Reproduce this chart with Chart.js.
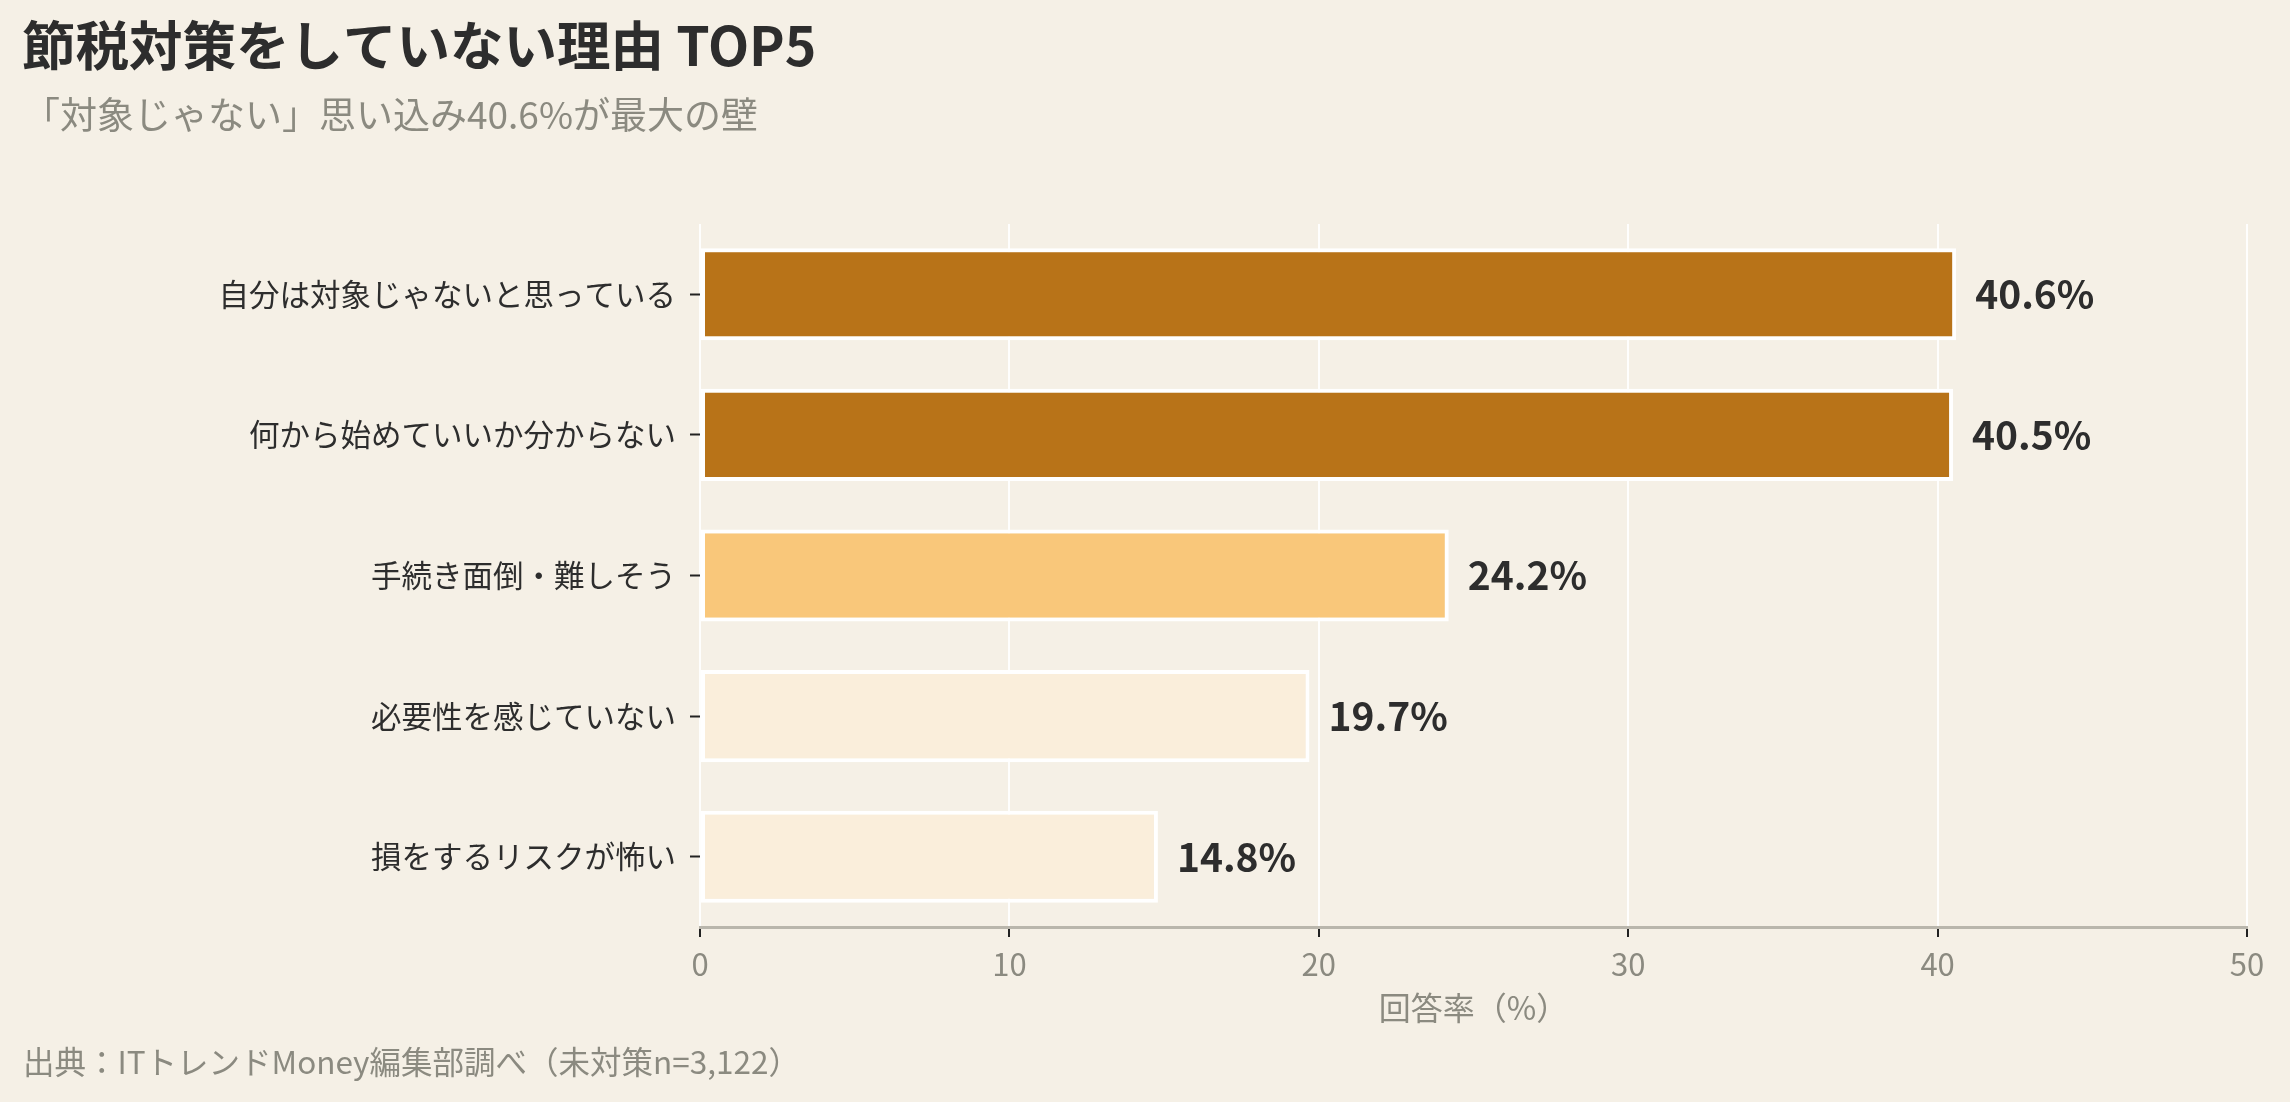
<!DOCTYPE html>
<html lang="ja">
<head>
<meta charset="utf-8">
<title>節税対策をしていない理由 TOP5</title>
<script src="https://cdn.jsdelivr.net/npm/chart.js@4.4.1/dist/chart.umd.min.js"></script>
<style>
    html, body { margin: 0; padding: 0; background: #F5F0E6; }
    #wrap { position: relative; width: 2290px; height: 1102px; }
</style>
</head>
<body>
<div id="wrap"><canvas id="chart"></canvas></div>
<script>
// --- texts ---
const titleText = '節税対策をしていない理由 TOP5';
const subtitleText = '「対象じゃない」思い込み40.6%が最大の壁';
const sourceText = '出典：ITトレンドMoney編集部調べ（未対策n=3,122）';
const axisTitle = '回答率（%）';

// --- data ---
const reasons = [
    '自分は対象じゃないと思っている',
    '何から始めていいか分からない',
    '手続き面倒・難しそう',
    '必要性を感じていない',
    '損をするリスクが怖い'
];
const rates = [40.6, 40.5, 24.2, 19.7, 14.8];
const barColors = ['#B87318', '#B87318', '#F9C77A', '#FAEEDB', '#FAEEDB'];
const xTicks = [0, 10, 20, 30, 40, 50];

const FONT = '"Noto Sans CJK JP", "Noto Sans", sans-serif';
const BG = '#F5F0E6';
const DARK = '#2D2D2D';
const GREY = '#8B8A80';

Chart.defaults.font.family = FONT;

/**
 * Paints the background, the headline block, the source line
 * and the value printed after each bar
 */
const decorPlugin = {
    id: 'decor',
    beforeDraw(chart) {
        const ctx = chart.ctx;
        ctx.save();
        ctx.fillStyle = BG;
        ctx.fillRect(0, 0, chart.width, chart.height);
        ctx.restore();
    },
    afterDatasetsDraw(chart) {
        const ctx = chart.ctx;
        const meta = chart.getDatasetMeta(0);
        ctx.save();
        ctx.fillStyle = DARK;
        ctx.font = `bold 39px ${FONT}`;
        ctx.textAlign = 'left';
        ctx.textBaseline = 'middle';
        meta.data.forEach((bar, i) => {
            ctx.fillText(rates[i].toFixed(1) + '%', bar.x + 19, bar.y);
        });
        ctx.restore();
    },
    afterDraw(chart) {
        const ctx = chart.ctx;
        ctx.save();
        ctx.textAlign = 'left';
        ctx.textBaseline = 'middle';

        ctx.fillStyle = DARK;
        ctx.font = `bold 53.5px ${FONT}`;
        ctx.fillText(titleText, 22, 46);

        ctx.fillStyle = GREY;
        ctx.font = `37px ${FONT}`;
        ctx.fillText(subtitleText, 23, 115);

        ctx.font = `31.5px ${FONT}`;
        ctx.fillText(sourceText, 23, 1062);
        ctx.restore();
    }
};

const config = {
    type: 'bar',
    data: {
        labels: reasons,
        datasets: [{
            data: rates,
            backgroundColor: barColors,
            borderColor: '#FFFFFF',
            borderWidth: 4,
            borderSkipped: false,
            barPercentage: 0.655,
            categoryPercentage: 1.0
        }]
    },
    options: {
        indexAxis: 'y',
        responsive: true,
        maintainAspectRatio: false,
        animation: false,
        layout: {
            padding: { top: 224, right: 43, bottom: 75, left: 0 }
        },
        plugins: {
            legend: { display: false },
            title: { display: false },
            tooltip: { enabled: false }
        },
        scales: {
            x: {
                min: 0,
                max: 50,
                afterBuildTicks: (scale) => {
                    scale.ticks = xTicks.map(v => ({ value: v }));
                },
                afterFit: (scale) => { scale.height = 100; },
                grid: {
                    color: 'rgba(255, 255, 255, 0.9)',
                    lineWidth: 2,
                    tickColor: '#222222',
                    tickLength: 10,
                    tickWidth: 2
                },
                border: { display: true, color: '#B9B6AC', width: 3 },
                ticks: {
                    color: GREY,
                    font: { size: 31 },
                    padding: 9
                },
                title: {
                    display: true,
                    text: axisTitle,
                    color: GREY,
                    font: { size: 32 },
                    padding: { top: 0, bottom: 0 }
                }
            },
            y: {
                afterFit: (scale) => { scale.width = 700; },
                grid: {
                    offset: false,
                    drawOnChartArea: false,
                    tickColor: '#222222',
                    tickLength: 10,
                    tickWidth: 2
                },
                border: { display: false },
                ticks: {
                    color: DARK,
                    font: { size: 30.5 },
                    padding: 14
                }
            }
        }
    },
    plugins: [decorPlugin]
};

new Chart(document.getElementById('chart'), config);
</script>
</body>
</html>
